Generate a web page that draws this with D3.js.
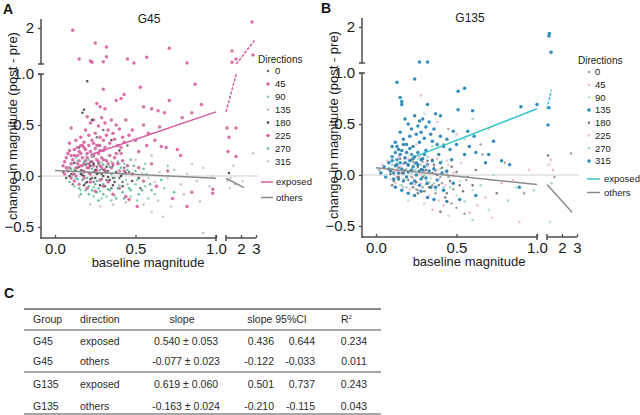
<!DOCTYPE html>
<html><head><meta charset="utf-8">
<script src="https://cdn.jsdelivr.net/npm/d3@7"></script>
<style>body{margin:0;background:#fff}svg{display:block;font-family:"Liberation Sans",Arial,sans-serif}</style>
</head><body><svg id="c" width="640" height="415"></svg>
<script>
// ---------- DATA ----------
const directions = [0, 45, 90, 135, 180, 225, 270, 315];
const colorsG45 = ["#6a6a6a", "#d8639f", "#7fcfae", "#bdbdbd", "#444444", "#d8639f", "#4fba92", "#c9c9c9"];
const colorsG135 = ["#9a9a9a", "#e9aecd", "#b5dfca", "#2283b6", "#6e6e6e", "#eebcd6", "#9fd4bd", "#2283b6"];
const exposedG45 = [45, 225];
const exposedG135 = [135, 315];
const fitLabels = ["exposed", "others"];
const fitColorsG45 = ["#d65aa0", "#8c8c8c"];
const fitColorsG135 = ["#36c5cc", "#8c8c8c"];
// [intercept, slope, xStart, xEnd]
const fitG45 = [[0.089, 0.540, 0.22, 2.9], [0.055, -0.077, 0, 2.2]];
const fitG135 = [[0.03, 0.619, 0.25, 1.3], [0.07, -0.163, 0, 2.67]];
const xTicksMain = [0, 0.5, 1.0];
const xTicksRight = [2, 3];
const yTicksLow = [-0.5, 0, 0.5, 1.0];
const yTicksHigh = [2];

// G45 exposed directions (45 / 225): [baseline, change, direction]
const g45Exposed = [
[0.11,1.94,45],[2.73,2.17,225],[0.15,1.14,45],[0.25,1.58,225],[0.32,1.47,45],[0.22,1.08,225],[0.23,1.05,45],[0.30,1.06,225],[0.32,1.2,45],[0.45,1.14,225],[0.49,1.03,45],[0.57,1.19,225],[0.71,1.44,45],[0.82,1.03,225],[1.4,1.36,45],[1.4,1.05,225],[1.67,1.14,45],[2.8,1.25,225],
[0.30,0.85,45],[0.53,0.87,225],[0.87,0.90,45],[0.91,0.70,225],[0.71,0.74,45],[0.43,0.80,225],[0.41,0.76,45],[0.38,0.74,225],[0.26,0.71,45],[0.55,0.68,225],[0.60,0.66,45],[0.28,0.68,225],[0.31,0.66,45],[0.79,0.57,225],[0.85,0.62,45],[0.68,0.62,225],[0.64,0.64,45],[0.10,0.47,225],[1.07,0.47,45],[1.2,0.38,225],[1.13,0.24,45],[1.67,0.47,225],[1.67,0.19,45],[0.78,0.2,225],[0.76,0.26,45],[0.69,0.28,225],[0.66,0.29,45],[0.50,0.35,225],[0.52,0.24,45],[0.85,-0.16,225],[0.82,-0.30,45],[0.98,-0.13,225],[0.98,-0.17,45],[0.51,-0.30,225],[0.46,-0.23,45],[0.73,-0.22,225],
[0.20,0.58,45],[0.22,0.52,225],[0.24,0.55,45],[0.27,0.49,225],[0.29,0.57,45],[0.31,0.52,225],[0.33,0.45,45],[0.35,0.55,225],[0.36,0.42,45],[0.38,0.50,225],[0.40,0.46,45],[0.42,0.38,225],[0.44,0.55,45],[0.46,0.40,225],[0.25,0.42,45],[0.28,0.38,225],[0.30,0.35,45],[0.32,0.40,225],[0.34,0.32,45],[0.37,0.36,225],[0.39,0.30,45],[0.41,0.28,225],[0.43,0.33,45],[0.21,0.40,225],[0.19,0.45,45],[0.23,0.35,225],[0.26,0.30,45],[0.18,0.33,225],[0.16,0.38,45],[0.48,0.45,225],[0.55,0.50,45],[0.58,0.42,225],[0.62,0.35,45],[0.57,0.30,225],[0.65,0.48,45],
[0.05,0.10,45],[0.07,0.18,225],[0.08,0.05,45],[0.09,0.25,225],[0.10,0.12,45],[0.11,0.02,225],[0.12,0.20,45],[0.13,0.08,225],[0.14,0.28,45],[0.15,0.15,225],[0.16,0.22,45],[0.17,0.05,225],[0.18,0.12,45],[0.19,0.26,225],[0.20,0.18,45],[0.21,0.08,225],[0.22,0.24,45],[0.23,0.14,225],[0.24,0.20,45],[0.25,0.04,225],[0.26,0.16,45],[0.27,0.22,225],[0.28,0.10,45],[0.29,0.18,225],[0.30,0.25,45],[0.31,0.06,225],[0.32,0.15,45],[0.34,0.20,225],[0.36,0.12,45],[0.38,0.22,225],[0.40,0.05,45],[0.42,0.15,225],[0.45,0.10,45],[0.12,-0.05,225],[0.15,-0.08,45],[0.18,-0.02,225],[0.20,-0.12,45],[0.22,-0.06,225],[0.25,-0.15,45],[0.28,-0.04,225],[0.30,-0.10,45],[0.33,-0.06,225],[0.36,-0.18,45],[0.40,-0.12,225],[0.44,-0.20,45],[0.09,0.32,225],[0.13,0.35,45],[0.17,0.30,225],[0.06,0.02,45],[0.10,-0.02,225],
[0.52,0.08,45],[0.55,-0.05,225],[0.60,0.12,45],[0.63,-0.10,225],[0.70,0.05,45],[0.48,0.02,225]
];
// dense core of the G45 exposed cloud
const g45ExposedCore = [
[0.06,0.14,45],[0.08,0.22,225],[0.09,0.08,45],[0.11,0.16,225],[0.12,0.26,45],[0.13,0.00,225],[0.14,0.12,45],[0.15,0.24,225],[0.16,0.10,45],[0.17,0.18,225],[0.18,0.28,45],[0.18,0.04,225],[0.19,0.15,45],[0.20,0.22,225],[0.21,0.30,45],[0.21,0.12,225],[0.22,0.02,45],[0.23,0.19,225],[0.24,0.10,45],[0.25,0.27,225],[0.26,0.06,45],[0.27,0.14,225],[0.28,0.25,45],[0.29,0.08,225],[0.30,0.16,45],[0.31,0.28,225],[0.32,0.04,45],[0.33,0.12,225],[0.35,0.08,45],[0.37,0.18,225],[0.39,0.12,45],[0.41,0.22,225],[0.43,0.05,45],[0.14,0.20,225],[0.16,0.30,45],[0.20,0.08,225],[0.24,0.32,45],[0.10,0.20,225],[0.07,0.08,45],[0.27,0.30,225]
];

// G45 other directions
const g45Others = [
[0.20,0.93,180],[0.18,0.65,180],[0.17,0.62,180],[0.23,0.55,180],[0.30,0.45,0],[0.35,0.35,180],[0.28,0.30,0],[0.40,0.25,180],[0.45,0.30,0],[0.15,0.28,180],[0.26,0.38,0],
[0.05,0.04,0],[0.07,-0.02,180],[0.08,0.08,90],[0.09,-0.06,270],[0.10,0.02,0],[0.11,0.12,135],[0.12,-0.10,90],[0.13,0.05,180],[0.14,-0.03,270],[0.15,0.09,0],[0.16,-0.14,90],[0.17,0.01,180],[0.18,0.14,270],[0.19,-0.07,0],[0.20,0.04,90],[0.21,-0.18,270],[0.22,0.10,180],[0.23,-0.02,0],[0.24,-0.11,90],[0.25,0.06,180],[0.26,-0.05,270],[0.27,0.12,0],[0.28,-0.15,90],[0.29,0.02,180],[0.30,-0.08,270],[0.31,0.07,135],[0.32,-0.20,90],[0.33,-0.01,180],[0.34,0.09,270],[0.35,-0.12,0],[0.36,0.03,90],[0.37,-0.06,180],[0.38,-0.22,270],[0.39,0.05,315],[0.40,-0.09,90],[0.41,0.00,180],[0.42,-0.16,270],[0.43,0.08,0],[0.44,-0.04,90],[0.46,-0.12,270],[0.48,0.02,180],[0.50,-0.08,90],[0.52,-0.18,270],[0.54,0.03,315],[0.56,-0.10,90],[0.58,-0.02,135],[0.60,-0.14,270],[0.62,-0.06,315],[0.65,0.04,135],[0.68,-0.12,90],[0.70,-0.02,315],[0.74,0.06,135],[0.78,-0.08,135],[0.82,0.02,315],[0.88,-0.05,135],[0.92,0.08,315],[0.96,-0.10,135],
[0.12,0.06,270],[0.14,0.15,90],[0.16,0.06,0],[0.18,-0.09,180],[0.20,-0.02,270],[0.21,0.16,90],[0.23,0.07,270],[0.24,-0.20,90],[0.26,0.02,180],[0.27,-0.12,270],[0.29,-0.22,90],[0.30,0.11,270],[0.32,-0.04,0],[0.34,-0.14,270],[0.35,0.14,90],[0.37,-0.02,270],[0.40,0.12,90],[0.42,-0.06,0],[0.45,0.06,270],[0.47,-0.20,90],[0.49,0.10,270],[0.51,-0.04,90],[0.53,-0.12,0],[0.55,0.07,270],[0.58,-0.22,90],
[0.15,-0.20,135],[0.19,0.20,315],[0.22,-0.28,135],[0.25,0.18,315],[0.28,-0.30,315],[0.33,0.20,135],[0.36,-0.28,135],[0.40,0.22,315],[0.44,-0.26,135],[0.50,0.16,315],[0.55,-0.28,135],[0.60,0.20,135],[0.64,-0.24,315],[0.67,-0.40,135],[0.60,-0.35,315],[0.92,-0.56,135],[0.72,-0.30,315],[0.80,-0.18,135],[0.85,0.12,315],[0.90,-0.25,135],[0.98,0.00,315],
[1.2,0.03,180],[1.1,-0.05,135],[1.3,-0.02,315],[1.5,0.10,135],[2.1,-0.05,315],[2.8,0.22,135],[1.25,-0.12,315],[1.6,-0.08,135]
];
// dense core of the G45 other-direction cloud
const g45OthersCore = [
[0.09,0.00,180],[0.10,0.07,270],[0.11,-0.08,0],[0.12,0.13,180],[0.13,-0.02,90],[0.14,0.08,180],[0.15,-0.12,270],[0.16,0.02,180],[0.17,0.10,0],[0.17,-0.04,270],[0.18,0.05,180],[0.19,-0.14,270],[0.19,0.11,0],[0.20,-0.06,180],[0.21,0.03,0],[0.21,-0.10,270],[0.22,0.14,0],[0.22,-0.03,180],[0.23,-0.14,270],[0.24,0.04,0],[0.24,0.12,180],[0.25,-0.08,270],[0.25,-0.02,180],[0.26,0.09,0],[0.26,-0.16,270],[0.27,0.03,180],[0.28,0.06,270],[0.28,-0.09,180],[0.29,-0.03,0],[0.29,0.13,90],[0.30,0.00,180],[0.30,-0.18,270],[0.31,-0.10,180],[0.31,0.04,0],[0.32,0.09,180],[0.33,-0.13,270],[0.33,0.05,0],[0.34,-0.04,180],[0.35,0.02,270],[0.36,-0.09,180],[0.36,0.10,0],[0.37,-0.19,90],[0.38,0.04,180],[0.39,-0.12,270],[0.40,-0.02,0],[0.41,0.08,270],[0.42,-0.10,180],[0.43,-0.22,270],[0.44,0.03,180],[0.45,-0.08,90],[0.46,0.04,0],[0.47,-0.14,270],[0.48,-0.05,180],[0.50,0.05,270],[0.52,-0.02,180],[0.54,-0.14,270],[0.57,0.02,90],[0.59,-0.08,270],[0.13,0.18,90],[0.16,-0.18,270],[0.20,0.12,270],[0.23,0.20,90],[0.27,-0.24,270],[0.31,0.16,90],[0.35,-0.24,90],[0.39,0.14,270],[0.43,0.12,90],[0.47,0.16,270],[0.51,-0.24,90],[0.56,0.12,90],[0.62,-0.18,90],[0.66,-0.04,270],[0.70,0.10,90],[0.74,-0.16,270],[0.12,0.02,0],[0.18,0.00,0],[0.24,-0.06,0],[0.30,0.06,0],[0.36,-0.02,0],[0.42,0.02,0]
];

// G135 exposed directions (135 / 315)
const g135Exposed = [
[0.27,1.03,135],[0.32,1.03,315],[1.13,1.75,135],[1.16,1.82,315],[1.27,1.3,135],
[0.13,0.91,315],[0.24,0.94,135],[0.51,0.82,315],[0.55,0.85,135],[0.60,0.63,315],[0.90,0.67,135],[1.0,0.69,315],[1.13,0.66,135],[1.07,0.49,315],[0.32,0.69,135],[0.16,0.72,315],[0.16,0.69,135],[0.15,0.76,315],[0.51,0.64,135],[0.37,0.60,315],[0.40,0.58,135],[0.27,0.53,315],[0.48,0.43,135],[0.57,0.43,315],[0.61,0.38,135],[0.73,0.33,315],[0.62,0.22,135],[0.70,0.20,315],[0.78,0.14,135],[0.68,0.12,315],[0.83,0.10,135],[0.89,-0.12,315],[0.44,-0.26,135],[0.62,-0.20,315],[0.52,-0.24,135],
[0.18,0.55,135],[0.20,0.50,315],[0.22,0.45,135],[0.24,0.58,315],[0.25,0.40,135],[0.26,0.48,315],[0.28,0.42,135],[0.29,0.55,315],[0.30,0.36,135],[0.31,0.47,315],[0.33,0.52,135],[0.34,0.40,315],[0.35,0.33,135],[0.36,0.45,315],[0.38,0.30,135],[0.40,0.38,315],[0.42,0.28,135],[0.44,0.35,315],[0.46,0.25,135],[0.15,0.42,315],[0.17,0.35,135],[0.19,0.30,315],[0.21,0.38,135],[0.23,0.28,315],[0.12,0.32,135],[0.14,0.25,315],[0.10,0.28,135],[0.27,0.32,315],[0.50,0.30,135],[0.55,0.20,315],[0.58,0.28,135],[0.47,0.15,315],
[0.03,0.02,135],[0.05,0.08,315],[0.06,-0.02,135],[0.08,0.12,315],[0.09,0.04,135],[0.10,0.18,315],[0.11,-0.04,135],[0.12,0.09,315],[0.13,0.15,135],[0.14,0.02,315],[0.15,0.20,135],[0.16,0.06,315],[0.17,-0.06,135],[0.18,0.12,315],[0.19,0.22,135],[0.20,0.03,315],[0.21,0.14,135],[0.22,-0.08,315],[0.23,0.08,135],[0.24,0.18,315],[0.25,0.00,135],[0.26,0.10,315],[0.27,-0.10,135],[0.28,0.15,315],[0.29,0.05,135],[0.30,0.20,315],[0.31,-0.03,135],[0.32,0.10,315],[0.34,-0.12,135],[0.36,0.06,315],[0.38,-0.05,135],[0.40,0.12,315],[0.42,-0.15,135],[0.44,0.04,315],[0.48,-0.08,135],[0.12,-0.12,315],[0.16,-0.15,135],[0.20,-0.18,315],[0.24,-0.20,135],[0.28,-0.16,315],[0.32,-0.22,135],[0.36,-0.24,315]
];
const g135ExposedCore = [
[0.08,0.06,135],[0.10,0.14,315],[0.11,0.02,135],[0.12,0.22,315],[0.13,0.10,135],[0.14,-0.04,315],[0.15,0.12,135],[0.16,0.24,315],[0.17,0.02,135],[0.18,0.17,315],[0.19,-0.02,135],[0.20,0.10,315],[0.21,0.26,135],[0.22,0.05,315],[0.23,0.16,135],[0.24,-0.06,315],[0.25,0.12,135],[0.26,0.22,315],[0.27,0.04,135],[0.28,-0.04,315],[0.29,0.16,135],[0.30,0.08,315],[0.31,0.24,135],[0.32,-0.08,315],[0.33,0.04,135],[0.35,0.14,315],[0.37,-0.12,135],[0.39,0.20,315],[0.41,0.02,135],[0.13,0.28,315],[0.17,0.30,135],[0.22,0.20,315]
];

// G135 other directions
const g135Others = [
[0.02,0.05,0],[0.04,0.10,45],[0.06,0.00,90],[0.08,0.06,180],[0.09,-0.04,225],[0.10,0.10,270],[0.11,0.03,0],[0.12,-0.08,45],[0.13,0.12,90],[0.14,-0.02,180],[0.15,0.08,225],[0.16,-0.10,270],[0.17,0.04,0],[0.18,0.16,45],[0.19,-0.05,90],[0.20,0.09,180],[0.21,-0.14,225],[0.22,0.02,270],[0.23,0.13,0],[0.24,-0.09,45],[0.25,0.06,90],[0.26,-0.18,180],[0.27,0.01,225],[0.28,0.10,270],[0.29,-0.12,0],[0.30,0.04,45],[0.31,-0.06,90],[0.32,0.14,180],[0.33,-0.20,225],[0.34,0.02,270],[0.35,-0.10,0],[0.36,0.08,45],[0.37,-0.15,90],[0.38,0.00,180],[0.39,-0.25,225],[0.40,0.06,270],[0.41,-0.08,0],[0.42,-0.30,45],[0.43,0.03,90],[0.44,-0.18,180],[0.45,0.10,225],[0.46,-0.12,270],[0.47,-0.28,0],[0.48,0.02,45],[0.50,-0.20,90],[0.52,-0.10,180],[0.53,0.12,225],[0.55,-0.26,270],[0.56,-0.05,0],[0.58,-0.37,45],[0.60,-0.15,90],[0.62,0.05,180],[0.63,-0.30,225],[0.65,-0.10,270],[0.66,0.20,0],[0.68,-0.22,45],[0.70,-0.34,90],[0.72,-0.42,225],[0.73,0.00,270],[0.75,-0.18,180],[0.78,-0.08,45],[0.80,0.12,0],[0.82,-0.25,270],[0.85,-0.05,225],[0.87,-0.12,90],[0.89,-0.46,45],[0.92,-0.18,0],[0.95,0.05,225],[0.98,-0.15,270],
[0.50,0.40,45],[0.45,0.45,0],[0.38,0.52,225],[0.30,0.60,90],[0.28,0.78,45],[0.60,0.55,270],[0.70,0.45,225],[0.65,0.30,0],[0.55,0.35,90],[0.42,0.30,180],[0.35,0.28,270],[0.25,0.30,225],
[0.07,0.14,225],[0.10,-0.10,180],[0.13,0.04,45],[0.15,0.16,180],[0.17,-0.12,45],[0.19,0.06,270],[0.21,0.20,90],[0.23,-0.03,225],[0.25,-0.14,0],[0.27,0.18,45],[0.29,0.00,90],[0.31,0.12,225],[0.33,-0.07,270],[0.35,0.15,180],[0.37,0.04,0],[0.39,-0.04,45],[0.41,0.14,90],[0.43,-0.10,225],[0.45,-0.02,0],[0.47,0.08,180],[0.20,-0.25,90],[0.30,-0.28,225],[0.40,-0.36,180],[0.50,-0.32,0],[0.35,-0.34,45],[0.45,-0.40,90],[0.60,-0.44,270],[0.55,-0.38,0],
[1.07,0.19,180],[2.6,0.21,0],[1.4,0.05,45],[1.2,-0.46,90],[1.3,-0.08,270],[1.1,0.10,225],[1.5,-0.02,0],[1.25,0.15,45]
];
const g135OthersCore = [
[0.09,0.01,180],[0.10,0.06,0],[0.11,-0.06,180],[0.12,0.14,270],[0.13,-0.02,0],[0.14,0.07,180],[0.15,-0.10,90],[0.16,0.02,180],[0.17,0.11,0],[0.17,-0.04,225],[0.18,0.05,180],[0.19,-0.12,270],[0.19,0.12,45],[0.20,-0.05,180],[0.21,0.04,0],[0.21,-0.09,90],[0.22,0.15,180],[0.22,-0.02,0],[0.23,-0.12,180],[0.24,0.05,270],[0.24,0.11,0],[0.25,-0.07,180],[0.25,0.00,45],[0.26,0.08,180],[0.26,-0.15,0],[0.27,0.03,90],[0.28,0.06,180],[0.28,-0.08,225],[0.29,-0.02,180],[0.29,0.13,0],[0.30,0.00,270],[0.30,-0.16,180],[0.31,-0.09,0],[0.31,0.05,180],[0.32,0.09,45],[0.33,-0.12,180],[0.33,0.04,0],[0.34,-0.03,90],[0.35,0.02,180],[0.36,-0.08,270],[0.36,0.10,180],[0.37,-0.18,0],[0.38,0.05,225],[0.39,-0.10,180],[0.40,-0.02,0],[0.41,0.07,180],[0.42,-0.12,270],[0.43,-0.22,180],[0.44,0.02,45],[0.46,-0.06,180],[0.48,-0.14,0],[0.50,0.03,180],[0.52,-0.06,90],[0.54,-0.16,180],[0.57,-0.02,0],[0.60,-0.10,180],[0.14,0.18,45],[0.20,0.16,225],[0.26,0.16,90],[0.32,0.18,270],[0.38,0.16,45],[0.44,0.14,225]
];

// Table
const tableHeader = ["Group", "direction", "slope", "slope 95%CI", "R"];
const tableGroups = ["G45", "G45", "G135", "G135"];
const tableDirections = ["exposed", "others", "exposed", "others"];
const tableSlopes = ["0.540 ± 0.053", "-0.077 ± 0.023", "0.619 ± 0.060", "-0.163 ± 0.024"];
const tableCILow = ["0.436", "-0.122", "0.501", "-0.210"];
const tableCIHigh = ["0.644", "-0.033", "0.737", "-0.115"];
const tableR2 = ["0.234", "0.011", "0.243", "0.043"];

// ---------- DRAWING ----------
const svg = d3.select("#c");
const AX = "#4d4d4d";

function panel(cfg) {
  const g = svg.append("g").attr("transform", `translate(${cfg.ox},${cfg.oy})`);
  const xMain = d3.scaleLinear().domain([0, 1]).range([55, 216]);
  const xRight = d3.scaleLinear().domain([1, 3]).range([226, 256]);
  const yLo = d3.scaleLinear().domain([-0.6, 1.0]).range([237.2, 74]);
  const yHi = d3.scaleLinear().domain([1, 2]).range([64, 28]);
  const px = x => x <= 1 ? xMain(x) : xRight(x);
  const py = y => y <= 1 ? yLo(y) : yHi(y);

  g.append("line").attr("x1", 41).attr("x2", 258).attr("y1", yLo(0)).attr("y2", yLo(0))
    .attr("stroke", "#d0d0d0").attr("stroke-width", 1);

  const col = d => cfg.colors[directions.indexOf(d[2])];
  const pts = [];
  cfg.others.forEach(d => pts.push({ d, big: false }));
  cfg.exposed.forEach(d => pts.push({ d, big: true }));
  // interleave so that exposed points and others overlap like in a real scatter
  pts.sort((a, b) => (a.d[0] * 97 + a.d[1] * 31) % 1 - (b.d[0] * 97 + b.d[1] * 31) % 1);
  g.append("g").selectAll("circle").data(pts).join("circle")
    .attr("cx", p => px(p.d[0])).attr("cy", p => py(p.d[1])).attr("r", p => p.big ? 1.75 : 1.25)
    .attr("fill", p => col(p.d)).attr("fill-opacity", 0.92);

  cfg.fits.forEach((f, i) => {
    const [b0, b1, xs, xe] = f;
    const fy = x => b0 + b1 * x;
    const c = cfg.fitColors[i];
    const line = d3.line().x(d => d[0]).y(d => d[1]);
    g.append("path").attr("d", line([[xMain(xs), yLo(fy(xs))], [xMain(1), yLo(fy(1))]]))
      .attr("stroke", c).attr("stroke-width", 1.5).attr("fill", "none");
    let xb = xe;
    if (fy(xe) > 1) xb = (1 - b0) / b1;
    const dash = i === 0 ? "3,1.5" : null;
    g.append("path").attr("d", line([[xRight(1), yLo(fy(1))], [xRight(xb), yLo(fy(xb))]]))
      .attr("stroke", c).attr("stroke-width", 1.5).attr("fill", "none").attr("stroke-dasharray", dash);
    if (xb < xe) {
      g.append("path").attr("d", line([[xRight(xb), yHi(fy(xb))], [xRight(xe), yHi(fy(xe))]]))
        .attr("stroke", c).attr("stroke-width", 1.5).attr("fill", "none").attr("stroke-dasharray", dash);
    }
  });

  const styleAxis = sel => {
    sel.select(".domain").remove();
    sel.selectAll(".tick line").attr("stroke", AX).attr("stroke-width", 1.3);
    sel.selectAll(".tick text").attr("font-size", 15).attr("fill", "#1a1a1a")
      .attr("font-family", '"Liberation Sans",Arial,sans-serif');
  };
  g.append("g").attr("transform", "translate(0,238)")
    .call(d3.axisBottom(xMain).tickValues(xTicksMain).tickFormat(d3.format(".1f")).tickSize(-3).tickPadding(5)).call(styleAxis);
  g.append("g").attr("transform", "translate(0,238)")
    .call(d3.axisBottom(xRight).tickValues(xTicksRight).tickFormat(d3.format("d")).tickSize(-3).tickPadding(5)).call(styleAxis);
  g.append("g").attr("transform", "translate(41,0)")
    .call(d3.axisLeft(yLo).tickValues(yTicksLow).tickFormat(d3.format(".1f")).tickSize(3).tickPadding(4)).call(styleAxis);
  g.append("g").attr("transform", "translate(41,0)")
    .call(d3.axisLeft(yHi).tickValues(yTicksHigh).tickFormat(d3.format("d")).tickSize(3).tickPadding(4)).call(styleAxis);

  const seg = (x1, y1, x2, y2) => g.append("line").attr("x1", x1).attr("y1", y1).attr("x2", x2).attr("y2", y2)
    .attr("stroke", AX).attr("stroke-width", 1.5);
  seg(41, 74, 41, 238.7); seg(41, 19, 41, 64);
  seg(38, 64, 44, 64); seg(38, 74, 44, 74);
  seg(40.3, 238, 216, 238); seg(226, 238, 256, 238);
  seg(216, 235, 216, 241); seg(226, 235, 226, 241);

  g.append("text").attr("x", 149).attr("y", 23).attr("text-anchor", "middle").attr("font-size", 12)
    .attr("fill", "#1a1a1a").text(cfg.title);
  g.append("text").attr("x", 148).attr("y", 267).attr("text-anchor", "middle").attr("font-size", 13)
    .attr("fill", "#1a1a1a").text("baseline magnitude");
  g.append("text").attr("transform", "translate(17,126) rotate(-90)").attr("text-anchor", "middle")
    .attr("font-size", 13).attr("fill", "#1a1a1a").text("change in magnitude (post - pre)");
  g.append("text").attr("x", cfg.labelX).attr("y", 14).attr("font-size", 14).attr("font-weight", "bold")
    .attr("fill", "#111").text(cfg.letter);

  const L = cfg.legend;
  g.append("text").attr("x", L.x).attr("y", L.y0 - 8).attr("font-size", 10).attr("fill", "#1a1a1a").text("Directions");
  directions.forEach((d, i) => {
    const y = L.y0 + i * L.dy;
    const big = cfg.exposedDirs.includes(d);
    g.append("circle").attr("cx", L.mx).attr("cy", y).attr("r", big ? 1.75 : 1.25).attr("fill", cfg.colors[i]);
    g.append("text").attr("x", L.tx).attr("y", y + 3.3).attr("font-size", 9.5).attr("fill", "#1a1a1a").text(d);
  });
  fitLabels.forEach((t, i) => {
    const y = L.fy0 + i * L.fdy;
    g.append("line").attr("x1", L.lx1).attr("x2", L.lx2).attr("y1", y).attr("y2", y)
      .attr("stroke", cfg.fitColors[i]).attr("stroke-width", 1.5);
    g.append("text").attr("x", L.ltx).attr("y", y + 3.3).attr("font-size", 9.5).attr("fill", "#1a1a1a").text(t);
  });
}

panel({ ox: 0, oy: 0, title: "G45", letter: "A", labelX: 3, colors: colorsG45, exposedDirs: exposedG45,
  exposed: g45Exposed.concat(g45ExposedCore), others: g45Others.concat(g45OthersCore), fits: fitG45, fitColors: fitColorsG45,
  legend: { x: 258, y0: 71, dy: 12.9, mx: 268, tx: 275, fy0: 182, fdy: 15.5, lx1: 261, lx2: 273, ltx: 276 } });
panel({ ox: 321, oy: -1, title: "G135", letter: "B", labelX: 0, colors: colorsG135, exposedDirs: exposedG135,
  exposed: g135Exposed.concat(g135ExposedCore), others: g135Others.concat(g135OthersCore), fits: fitG135, fitColors: fitColorsG135,
  legend: { x: 257, y0: 73, dy: 12.7, mx: 268, tx: 274, fy0: 180, fdy: 13.5, lx1: 266, lx2: 279, ltx: 283 } });

// ---------- TABLE ----------
const T = svg.append("g").attr("fill", "#2a2a2a").attr("font-size", 10.5);
svg.append("text").attr("x", 4).attr("y", 298).attr("font-size", 14).attr("font-weight", "bold").attr("fill", "#111").text("C");
const hl = (y, w) => svg.append("line").attr("x1", 24).attr("x2", 381).attr("y1", y).attr("y2", y)
  .attr("stroke", "#8a8a8a").attr("stroke-width", w);
hl(309, 2); hl(330, 1.5); hl(372, 1.5); hl(414, 1.5);
const headY = 323;
T.append("text").attr("x", 33).attr("y", headY).text(tableHeader[0]);
T.append("text").attr("x", 80).attr("y", headY).text(tableHeader[1]);
T.append("text").attr("x", 182).attr("y", headY).attr("text-anchor", "middle").text(tableHeader[2]);
T.append("text").attr("x", 277).attr("y", headY).attr("text-anchor", "middle").text(tableHeader[3]);
const r2 = T.append("text").attr("x", 341).attr("y", headY).text(tableHeader[4]);
r2.append("tspan").attr("font-size", 6).attr("dy", -4).text("2");
const rowY = [345, 365, 388, 410];
tableGroups.forEach((gname, i) => {
  const y = rowY[i];
  T.append("text").attr("x", 33).attr("y", y).text(gname);
  T.append("text").attr("x", 80).attr("y", y).text(tableDirections[i]);
  T.append("text").attr("x", 186).attr("y", y).attr("text-anchor", "middle").text(tableSlopes[i]);
  T.append("text").attr("x", 274).attr("y", y).attr("text-anchor", "end").text(tableCILow[i]);
  T.append("text").attr("x", 315).attr("y", y).attr("text-anchor", "end").text(tableCIHigh[i]);
  T.append("text").attr("x", 354).attr("y", y).attr("text-anchor", "middle").text(tableR2[i]);
});
</script></body></html>
